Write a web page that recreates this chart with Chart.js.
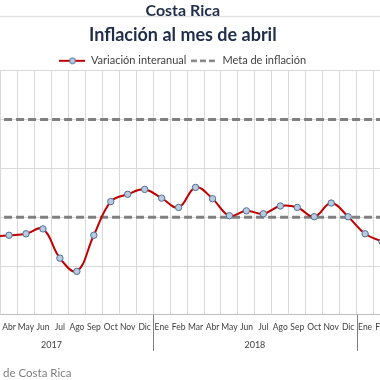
<!DOCTYPE html>
<html>
<head>
<meta charset="utf-8">
<script src="https://cdn.jsdelivr.net/npm/chart.js@4.4.1/dist/chart.umd.min.js"></script>
<style>
  html, body { margin: 0; padding: 0; background: #ffffff; }
  #wrap { position: relative; width: 380px; height: 380px; overflow: hidden; background: #fff; }
  #box { position: absolute; left: -30px; top: 0; width: 426px; height: 380px; }
  #src { position: absolute; left: 3px; top: 366px; font: 11.5px Lato, sans-serif; color: #7f7f7f; white-space: nowrap; }
</style>
</head>
<body>
<div id="wrap">
  <div id="box"><canvas id="c" width="426" height="380"></canvas></div>
  <div id="src">de Costa Rica</div>
</div>
<script>
const monthNames = ['Ene','Feb','Mar','Abr','May','Jun','Jul','Ago','Sep','Oct','Nov','Dic'];
const categories = ['Mar','Abr','May','Jun','Jul','Ago','Sep','Oct','Nov','Dic',
                    'Ene','Feb','Mar','Abr','May','Jun','Jul','Ago','Sep','Oct','Nov','Dic',
                    'Ene','Feb'];
const years = ['2017','2017','2017','2017','2017','2017','2017','2017','2017','2017',
               '2018','2018','2018','2018','2018','2018','2018','2018','2018','2018','2018','2018',
               '2019','2019'];
const variacionInteranual = [1.60, 1.63, 1.66, 1.76, 1.16, 0.89, 1.63, 2.32, 2.47, 2.57,
                             2.39, 2.20, 2.61, 2.38, 2.03, 2.13, 2.07, 2.23, 2.20, 2.01, 2.29, 2.01,
                             1.66, 1.50];
const metaSuperior = [4,4,4,4,4,4,4,4,4,4,4,4,4,4,4,4,4,4,4,4,4,4,4,4];
const metaInferior = [2,2,2,2,2,2,2,2,2,2,2,2,2,2,2,2,2,2,2,2,2,2,2,2];
const yTicks = [0,1,2,3,4,5];

const RED = '#c00000';
const GRAY_DASH = '#808080';

function makeLineMarker() {
  const cv = document.createElement('canvas');
  cv.width = 26; cv.height = 10;
  const g = cv.getContext('2d');
  g.strokeStyle = RED; g.lineWidth = 2;
  g.beginPath(); g.moveTo(0, 5); g.lineTo(26, 5); g.stroke();
  g.beginPath(); g.arc(13, 5, 3, 0, Math.PI * 2);
  g.fillStyle = '#b9c9de'; g.fill();
  g.strokeStyle = '#4f6f99'; g.lineWidth = 1; g.stroke();
  return cv;
}
function makeDashMarker() {
  const cv = document.createElement('canvas');
  cv.width = 26; cv.height = 10;
  const g = cv.getContext('2d');
  g.strokeStyle = GRAY_DASH; g.lineWidth = 2.5;
  g.setLineDash([6, 3]);
  g.beginPath(); g.moveTo(0, 5); g.lineTo(26, 5); g.stroke();
  return cv;
}
const markerLine = makeLineMarker();
const markerDash = makeDashMarker();

const yearPlugin = {
  id: 'yearPlugin',
  beforeDraw(chart) {
    const ctx = chart.ctx;
    ctx.save();
    ctx.strokeStyle = '#e3e3e3';
    ctx.lineWidth = 1.5;
    ctx.beginPath(); ctx.moveTo(0, 16.5); ctx.lineTo(chart.width, 16.5); ctx.stroke();
    ctx.restore();
  },
  afterDraw(chart) {
    const x = chart.scales.x;
    const area = chart.chartArea;
    const ctx = chart.ctx;
    ctx.save();
    ctx.strokeStyle = '#7f7f7f';
    ctx.lineWidth = 1;
    for (let i = 0; i < categories.length - 1; i++) {
      if (years[i] !== years[i + 1]) {
        const bx = Math.round((x.getPixelForValue(i) + x.getPixelForValue(i + 1)) / 2) + 0.5;
        ctx.beginPath(); ctx.moveTo(bx, area.bottom); ctx.lineTo(bx, area.bottom + 36); ctx.stroke();
      }
    }
    ctx.fillStyle = '#404040';
    ctx.font = '9px Lato, sans-serif';
    ctx.textAlign = 'center';
    ctx.textBaseline = 'middle';
    const done = {};
    for (let i = 0; i < categories.length; i++) {
      const yr = years[i];
      if (done[yr]) continue;
      done[yr] = true;
      const first = i - monthNames.indexOf(categories[i]);
      const last = first + 11;
      const cx = (x.getPixelForValue(first) + x.getPixelForValue(last)) / 2;
      ctx.fillText(yr, cx, area.bottom + 30);
    }
    ctx.restore();
  }
};

new Chart(document.getElementById('c'), {
  type: 'line',
  data: {
    labels: categories,
    datasets: [
      {
        label: 'Variación interanual',
        data: variacionInteranual,
        borderColor: RED,
        borderWidth: 2,
        tension: 0.4,
        pointRadius: 3.2,
        pointBackgroundColor: '#b9c9de',
        pointBorderColor: '#4f6f99',
        pointBorderWidth: 1,
        order: 0
      },
      {
        label: 'Meta de inflación',
        data: metaSuperior,
        borderColor: GRAY_DASH,
        borderWidth: 3,
        borderDash: [8, 4],
        pointRadius: 0,
        order: 1
      },
      {
        label: 'Meta inferior',
        data: metaInferior,
        borderColor: GRAY_DASH,
        borderWidth: 3,
        borderDash: [8, 4],
        pointRadius: 0,
        order: 1
      }
    ]
  },
  options: {
    responsive: false,
    animation: false,
    layout: { padding: { left: 1.6, right: 2, top: 0, bottom: 41 } },
    plugins: {
      title: {
        display: true,
        text: 'Costa Rica',
        color: '#1f2d4a',
        font: { family: 'Lato', size: 16, weight: 'bold' },
        padding: { top: 1, bottom: 4 }
      },
      subtitle: {
        display: true,
        text: 'Inflación al mes de abril',
        color: '#1f2d4a',
        font: { family: 'Lato', size: 18, weight: 'bold' },
        padding: { top: 0, bottom: 5 }
      },
      legend: {
        display: true,
        maxHeight: 20,
        labels: {
          color: '#404040',
          font: { family: 'Lato', size: 11 },
          usePointStyle: true,
          pointStyleWidth: 26,
          boxHeight: 8,
          padding: 4.5,
          generateLabels: () => [
            { text: 'Variación interanual', pointStyle: markerLine, fillStyle: 'transparent', strokeStyle: 'transparent', lineWidth: 0, datasetIndex: 0, fontColor: '#404040' },
            { text: 'Meta de inflación', pointStyle: markerDash, fillStyle: 'transparent', strokeStyle: 'transparent', lineWidth: 0, datasetIndex: 1, fontColor: '#404040' }
          ]
        }
      },
      tooltip: { enabled: false }
    },
    scales: {
      x: {
        offset: true,
        grid: { offset: true, color: '#d9d9d9', drawTicks: false },
        border: { color: '#bfbfbf' },
        ticks: {
          autoSkip: false, maxRotation: 0, minRotation: 0,
          color: '#404040', padding: 7,
          font: { family: 'Lato', size: 8.5 }
        }
      },
      y: {
        min: 0, max: 5,
        afterBuildTicks: (scale) => { scale.ticks = yTicks.map(v => ({ value: v })); },
        afterFit: (scale) => { scale.width = 12; },
        grid: { color: '#d9d9d9', drawTicks: false },
        border: { display: false },
        ticks: { display: false }
      }
    }
  },
  plugins: [yearPlugin]
});
</script>
</body>
</html>
